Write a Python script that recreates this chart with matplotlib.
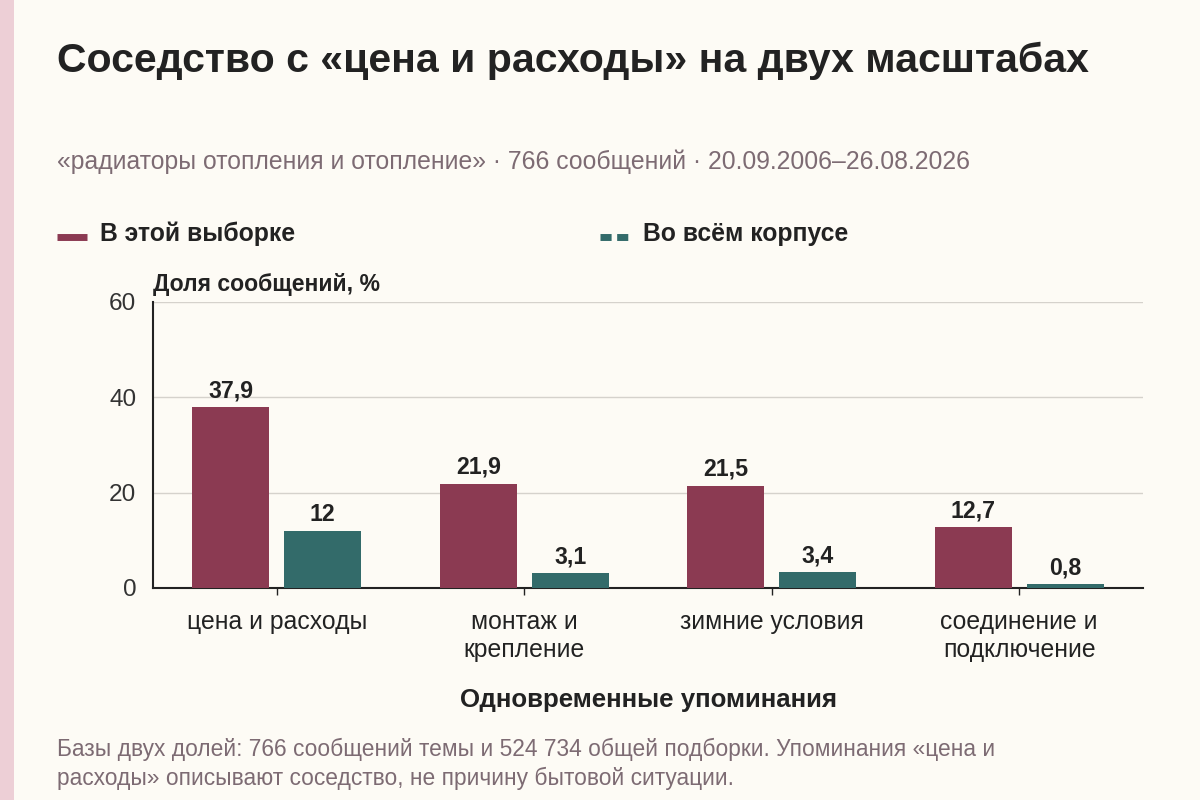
import numpy as np
import matplotlib
matplotlib.use("Agg")
import matplotlib.pyplot as plt
from matplotlib.patches import Rectangle
from matplotlib.lines import Line2D

plt.rcParams['font.family'] = ['Liberation Sans', 'DejaVu Sans']

categories = ['цена и расходы', 'монтаж и\nкрепление', 'зимние условия', 'соединение и\nподключение']
sample_vals = [37.9, 21.9, 21.5, 12.7]
corpus_vals = [12.0, 3.1, 3.4, 0.8]
sample_labels = ['37,9', '21,9', '21,5', '12,7']
corpus_labels = ['12', '3,1', '3,4', '0,8']
yticks = [0, 20, 40, 60]

bg = '#FDFBF5'
c_sample = '#8B3A52'
c_corpus = '#336B6A'
txt = '#222222'
muted = '#7D6B73'

fig = plt.figure(figsize=(12, 8), dpi=100)
fig.patch.set_facecolor(bg)

# pink strip on the left edge
fig.patches.append(Rectangle((0, 0), 14/1200, 1, transform=fig.transFigure,
                             facecolor='#EDCFD6', edgecolor='none', zorder=0))

fig.text(57/1200, 1-61/800, 'Соседство с «цена и расходы» на двух масштабах',
         fontsize=29.5, fontweight='bold', color=txt, va='center')
fig.text(57/1200, 1-162/800, '«радиаторы отопления и отопление» · 766 сообщений · 20.09.2006–26.08.2026',
         fontsize=17.8, color=muted, va='center')

# legend
fig.lines.append(Line2D([57/1200, 87/1200], [1-237/800]*2, transform=fig.transFigure,
                        color=c_sample, lw=5, solid_capstyle='butt'))
fig.text(100/1200, 1-234/800, 'В этой выборке', fontsize=17.8, fontweight='bold', color=txt, va='center')
fig.lines.append(Line2D([600/1200, 631/1200], [1-237/800]*2, transform=fig.transFigure,
                        color=c_corpus, lw=5, linestyle=(0, (1.6, 0.8))))
fig.text(643/1200, 1-234/800, 'Во всём корпусе', fontsize=17.8, fontweight='bold', color=txt, va='center')

ax = fig.add_axes([153/1200, 1-588/800, 990/1200, 286/800])
ax.set_facecolor(bg)

x = np.arange(len(categories))
w = 0.31
off = 0.186
ax.bar(x - off, sample_vals, w, color=c_sample, zorder=3)
ax.bar(x + off, corpus_vals, w, color=c_corpus, zorder=3)

for xi, v, s in zip(x, sample_vals, sample_labels):
    ax.text(xi - off, v + 1.0, s, ha='center', va='bottom', fontsize=16.7, fontweight='bold', color=txt)
for xi, v, s in zip(x, corpus_vals, corpus_labels):
    ax.text(xi + off, v + 1.0, s, ha='center', va='bottom', fontsize=16.7, fontweight='bold', color=txt)

ax.set_xlim(-0.5, 3.5)
ax.set_ylim(0, 60)
ax.set_yticks(yticks)
ax.set_yticklabels([str(t) for t in yticks], fontsize=17.6, color='#333333')
ax.tick_params(axis='y', length=0, pad=12)
ax.set_xticks(x)
ax.set_xticklabels(categories, fontsize=17.8, color=txt, linespacing=1.22)
ax.tick_params(axis='x', length=5, width=1, color=txt, pad=11)
ax.grid(axis='y', color='#D5D2CC', lw=1, zorder=0)
for sp in ['top', 'right']:
    ax.spines[sp].set_visible(False)
ax.spines['left'].set_color(txt)
ax.spines['bottom'].set_color(txt)
ax.spines['left'].set_linewidth(1.5)
ax.spines['bottom'].set_linewidth(1.5)

fig.text(153/1200, 1-285/800, 'Доля сообщений, %', fontsize=16.6, fontweight='bold', color=txt, va='center')
fig.text(648/1200, 1-700/800, 'Одновременные упоминания', fontsize=18.6, fontweight='bold', color=txt,
         ha='center', va='center')
fig.text(57/1200, 1-764/800,
         'Базы двух долей: 766 сообщений темы и 524 734 общей подборки. Упоминания «цена и\n'
         'расходы» описывают соседство, не причину бытовой ситуации.',
         fontsize=16.4, color=muted, va='center', linespacing=1.3)

fig.savefig('out.png', dpi=100, facecolor=bg)
